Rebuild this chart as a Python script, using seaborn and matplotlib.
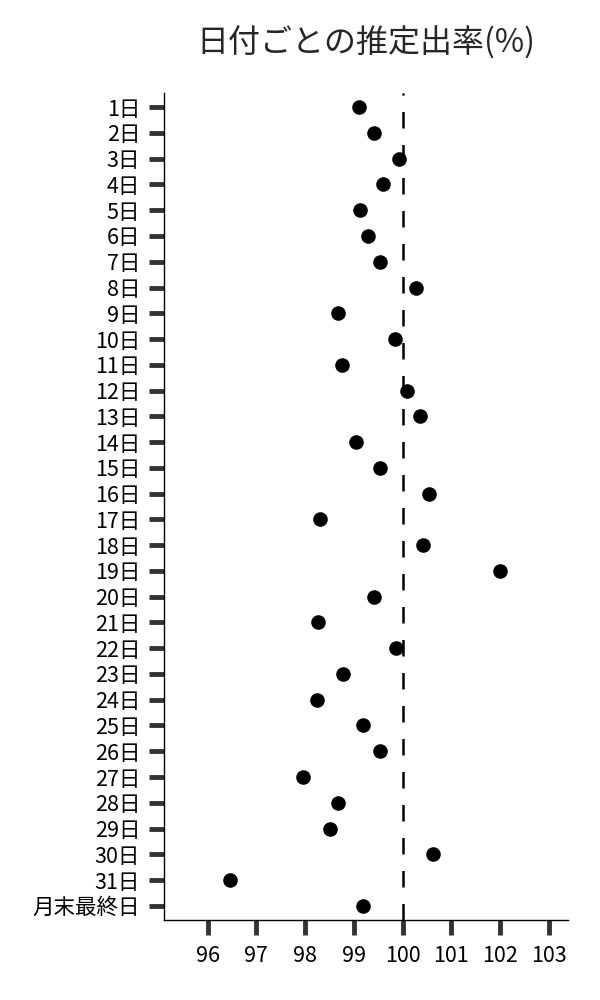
import matplotlib
matplotlib.use("Agg")
import matplotlib.pyplot as plt
import seaborn as sns
import pandas as pd

# 日付ラベル
days = ["1日", "2日", "3日", "4日", "5日", "6日", "7日", "8日", "9日", "10日",
        "11日", "12日", "13日", "14日", "15日", "16日", "17日", "18日", "19日", "20日",
        "21日", "22日", "23日", "24日", "25日", "26日", "27日", "28日", "29日", "30日",
        "31日", "月末最終日"]
# 推定出率(%)
rates = [99.10, 99.41, 99.93, 99.60, 99.13, 99.29, 99.53, 100.28, 98.67, 99.85,
         98.75, 100.09, 100.36, 99.04, 99.53, 100.54, 98.30, 100.43, 101.99, 99.41,
         98.26, 99.86, 98.77, 98.25, 99.19, 99.53, 97.96, 98.67, 98.52, 100.63,
         96.46, 99.19]
x_ticks = [96, 97, 98, 99, 100, 101, 102, 103]
ref_value = 100

df = pd.DataFrame({"day": days, "rate": rates})

sns.set_style("ticks")
plt.rcParams['font.family'] = ['Noto Sans CJK JP', 'DejaVu Sans']

fig, ax = plt.subplots(figsize=(6, 10), dpi=100)
fig.subplots_adjust(left=0.273, right=0.947, bottom=0.08, top=0.907)

sns.stripplot(data=df, x="rate", y="day", order=days, jitter=False,
              color="black", size=10.5, linewidth=0, ax=ax)
ax.axvline(ref_value, color="black", lw=1.8, linestyle=(0, (6.6, 6.6)))

ax.set_xlim(95.1, 103.4)
ax.set_ylim(len(days) - 0.45, -0.55)
ax.set_xticks(x_ticks)
ax.set_xlabel("")
ax.set_ylabel("")
ax.tick_params(axis="both", length=11, width=3.5, color="#333333",
               labelsize=15.5, labelcolor="black")
ax.tick_params(axis="x", pad=7)
ax.tick_params(axis="y", pad=6)

sns.despine(ax=ax)
for s in ["left", "bottom"]:
    ax.spines[s].set_linewidth(1.0)
    ax.spines[s].set_color("black")

ax.set_title("日付ごとの推定出率(%)", fontsize=23, pad=29)

fig.savefig("out.png", dpi=100)
